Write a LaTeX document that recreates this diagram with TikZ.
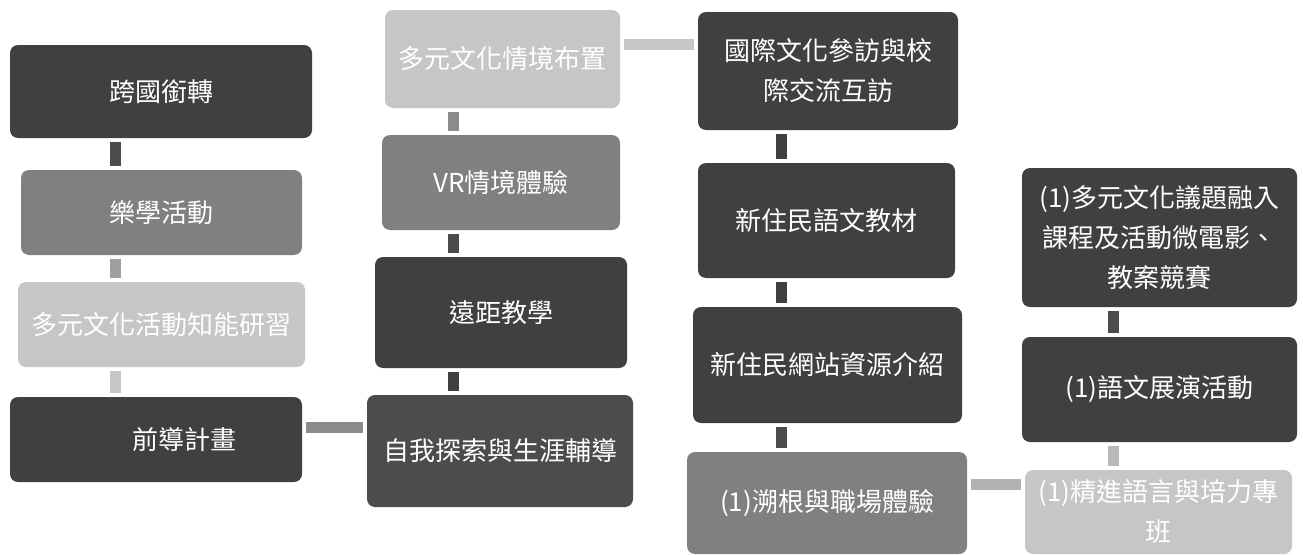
\documentclass[tikz,border=0pt]{standalone}
\usepackage{fontspec}
\setmainfont{Noto Sans CJK TC}
\definecolor{cdark}{HTML}{404040}
\definecolor{cdarkb}{HTML}{4C4C4C}
\definecolor{cmid}{HTML}{808080}
\definecolor{clight}{HTML}{C6C6C6}
\tikzset{
  box/.style={rounded corners=8pt, draw=none, text=white, align=center,
    inner sep=0pt, font=\fontsize{26}{40}\selectfont},
  darkbox/.style={box, fill=cdark},
  darkbbox/.style={box, fill=cdarkb},
  midbox/.style={box, fill=cmid},
  lightbox/.style={box, fill=clight},
  conn/.style={line width=11pt, shorten >=4pt, shorten <=4pt},
}
\begin{document}
\begin{tikzpicture}[x=1pt,y=-1pt]
\clip (0,0) rectangle (1303,554);
\fill[white] (0,0) rectangle (1303,554);
% left column
\node[darkbox, minimum width=302pt, minimum height=93pt] (A) at (161,91.5) {跨國銜轉};
\node[midbox, minimum width=281pt, minimum height=85pt] (B) at (161.5,212.5) {樂學活動};
\node[lightbox, minimum width=287pt, minimum height=85pt] (C) at (161.5,324.5) {多元文化活動知能研習};
\node[darkbox, minimum width=292pt, minimum height=85pt] (D) at (156,439.5) {\hspace*{56pt}前導計畫};
% middle column
\node[darkbbox, minimum width=266pt, minimum height=112pt] (E) at (500,451) {自我探索與生涯輔導};
\node[darkbox, minimum width=252pt, minimum height=111pt] (R2) at (501,312.5) {遠距教學};
\node[midbox, minimum width=238pt, minimum height=95pt] (R3) at (501,182.5) {VR情境體驗};
\node[lightbox, minimum width=235pt, minimum height=98pt] (R4) at (502.5,59) {多元文化情境布置};
% right-middle column
\node[darkbox, minimum width=260pt, minimum height=118pt] (F) at (828,71) {國際文化參訪與校\\際交流互訪};
\node[darkbox, minimum width=257pt, minimum height=115pt] (G) at (826.5,220.5) {新住民語文教材};
\node[darkbox, minimum width=269pt, minimum height=116pt] (H) at (827.5,365) {新住民網站資源介紹};
\node[midbox, minimum width=280pt, minimum height=102pt] (I) at (827,503) {(1)溯根與職場體驗};
% right column
\node[darkbox, minimum width=275pt, minimum height=139pt] (J) at (1159.5,237.5) {(1)多元文化議題融入\\課程及活動微電影、\\教案競賽};
\node[darkbox, minimum width=275pt, minimum height=105pt] (K) at (1159.5,389.5) {(1)語文展演活動};
\node[lightbox, minimum width=267pt, minimum height=84pt] (L) at (1158.5,512) {(1)精進語言與培力專\\班};
% connector guide coordinates
\coordinate (xL) at (115,0);
\coordinate (xM) at (453,0);
\coordinate (xR) at (781,0);
\coordinate (xRR) at (1113,0);
\coordinate (yDE) at (0,427.5);
\coordinate (yRF) at (0,44);
\coordinate (yIL) at (0,484);
% connectors
\draw[conn, draw=cdarkb] (A.south -| xL) -- (B.north -| xL);
\draw[conn, draw=gray!75] (B.south -| xL) -- (C.north -| xL);
\draw[conn, draw=gray!45] (C.south -| xL) -- (D.north -| xL);
\draw[conn, draw=gray!110!black] (D.east |- yDE) -- (E.west |- yDE);
\draw[conn, draw=cdark] (E.north -| xM) -- (R2.south -| xM);
\draw[conn, draw=cdarkb] (R2.north -| xM) -- (R3.south -| xM);
\draw[conn, draw=gray!90] (R3.north -| xM) -- (R4.south -| xM);
\draw[conn, draw=gray!45] (R4.east |- yRF) -- (F.west |- yRF);
\draw[conn, draw=cdark] (F.south -| xR) -- (G.north -| xR);
\draw[conn, draw=cdark] (G.south -| xR) -- (H.north -| xR);
\draw[conn, draw=cdarkb] (H.south -| xR) -- (I.north -| xR);
\draw[conn, draw=gray!60] (I.east |- yIL) -- (L.west |- yIL);
\draw[conn, draw=gray!55] (L.north -| xRR) -- (K.south -| xRR);
\draw[conn, draw=cdarkb] (K.north -| xRR) -- (J.south -| xRR);
\end{tikzpicture}
\end{document}
